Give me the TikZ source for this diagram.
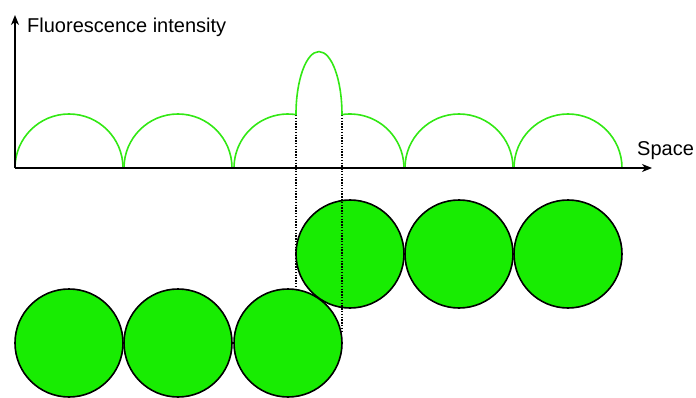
\documentclass[tikz,border=0pt]{standalone}
\usepackage{fontspec}
\setmainfont{Liberation Sans}
\usetikzlibrary{arrows.meta}
\definecolor{cellfill}{RGB}{24,236,2}
\definecolor{curvegreen}{RGB}{50,232,20}
\tikzset{
  cell/.style={draw=black, line width=1.6pt, fill=cellfill},
  axis/.style={draw=black, line width=1.3pt, -{Stealth[length=10pt,width=8pt,inset=3pt]}},
  curve/.style={draw=curvegreen, line width=1.6pt},
  guide/.style={draw=black, line width=1.3pt, dash pattern=on 1.4pt off 1.4pt},
  lbl/.style={inner sep=0pt, font=\fontsize{20}{24}\selectfont}
}
\begin{document}
\begin{tikzpicture}[x=1pt,y=1pt]
\useasboundingbox (0,0) rectangle (696,397);
% cells
\draw[cell] (69,54) circle (54);
\draw[cell] (178,54) circle (54);
\draw[cell] (288,54) circle (54);
\draw[cell] (350,143) circle (54);
\draw[cell] (459,143) circle (54);
\draw[cell] (568,143) circle (54);
% guides
\coordinate (gl) at (296,282);
\coordinate (gr) at (342,282);
\coordinate (gl2) at (296,108);
\coordinate (gr2) at (342,64);
\draw[guide] (gl) -- (gl2);
\draw[guide] (gr) -- (gr2);
% intensity curve
\draw[curve] (15,229) arc[start angle=180,end angle=0,radius=54];
\draw[curve] (124,229) arc[start angle=180,end angle=0,radius=54];
\draw[curve] (234,229) arc[start angle=180,end angle=81.5,radius=54]
  arc[start angle=180,end angle=0,x radius=23,y radius=63]
  arc[start angle=98.5,end angle=0,radius=54];
\draw[curve] (405,229) arc[start angle=180,end angle=0,radius=54];
\draw[curve] (514,229) arc[start angle=180,end angle=0,radius=54];
% axes
\coordinate (o) at (15,229);
\coordinate (xend) at (652,229);
\coordinate (yend) at (15,382);
\draw[axis] (o) -- (xend);
\draw[axis] (o) -- (yend);
\node[lbl, anchor=base west] (ylab) at (27,364) {Fluorescence intensity};
\node[lbl, anchor=base west] (xlab) at (637,241) {Space};
\end{tikzpicture}
\end{document}
